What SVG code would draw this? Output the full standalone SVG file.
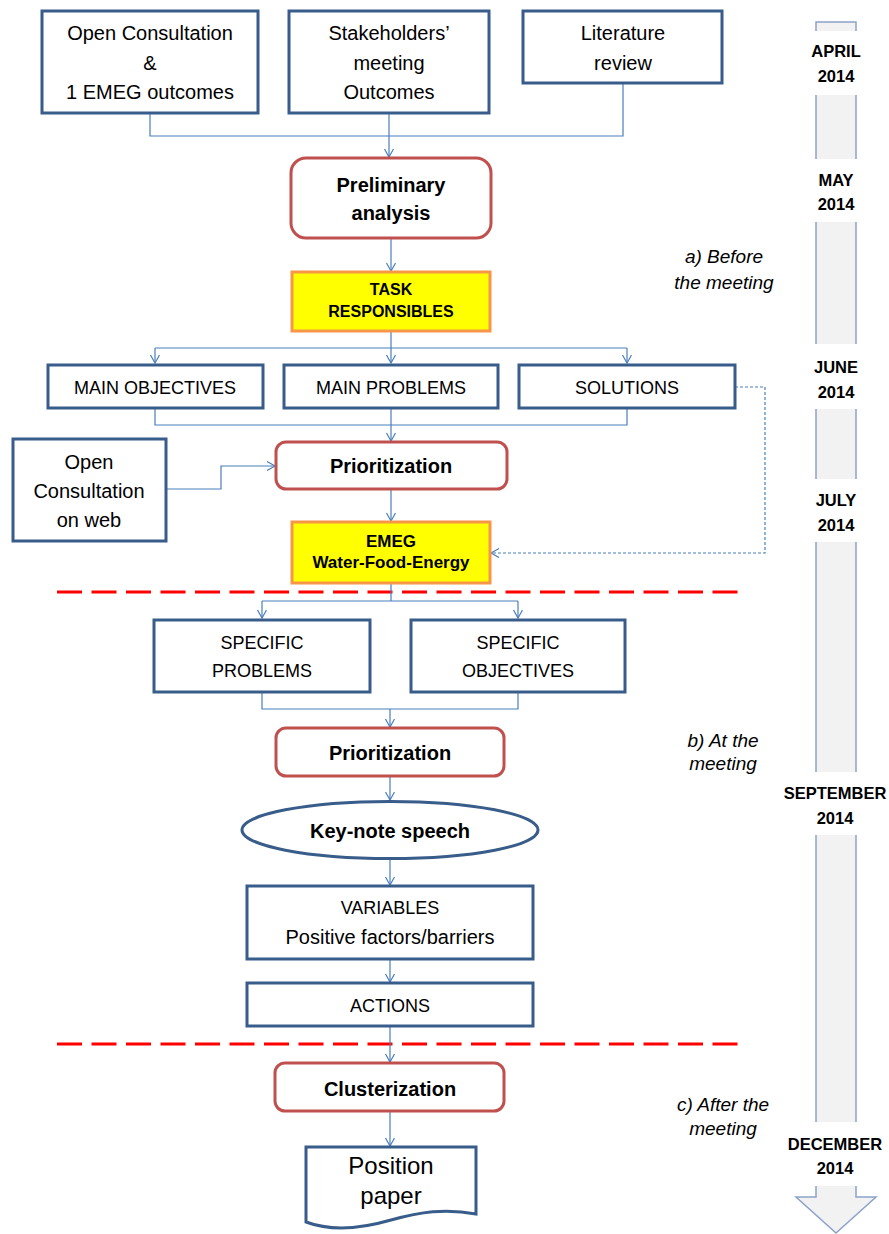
<svg xmlns="http://www.w3.org/2000/svg" width="889" height="1234" viewBox="0 0 889 1234">
<defs>
<marker id="arr" markerUnits="userSpaceOnUse" markerWidth="12" markerHeight="12" refX="9" refY="5" orient="auto">
<path d="M1,0.5 L9,5 L1,9.5" fill="none" stroke="#4a7ebb" stroke-width="1.2"/>
</marker>
<style>
.box{fill:#fff;stroke:#385d8a;stroke-width:3}
.rbox{fill:#fff;stroke:#c0504d;stroke-width:3}
.ybox{fill:#ffff00;stroke:#f79646;stroke-width:3}
.t{font-family:"Liberation Sans",Arial,sans-serif;font-size:20px;fill:#000;text-anchor:middle}
.c{font-size:18px}
.b{font-weight:bold}
.y{font-size:16px;font-weight:bold}
.it{font-family:"Liberation Sans",Arial,sans-serif;font-size:19px;font-style:italic;fill:#000;text-anchor:middle}
.m{font-family:"Liberation Sans",Arial,sans-serif;font-size:16.5px;font-weight:bold;fill:#000;text-anchor:middle}
.cn{fill:none;stroke:#4a7ebb;stroke-width:1.2}
.red{fill:none;stroke:#ff0000;stroke-width:3;stroke-dasharray:25 9.5}
</style>
</defs>
<rect width="889" height="1234" fill="#fff"/>

<g id="timeline">
<path d="M816,22 H856 V1197 H876 L836,1233 L796,1197 H816 Z" fill="#f2f2f2" stroke="#8da2c8" stroke-width="1.5"/>
<rect x="812" y="31" width="48" height="64" fill="#fff"/>
<rect x="812" y="159" width="48" height="63" fill="#fff"/>
<rect x="812" y="344" width="48" height="65" fill="#fff"/>
<rect x="812" y="479" width="48" height="63" fill="#fff"/>
<rect x="812" y="772" width="48" height="63" fill="#fff"/>
<rect x="812" y="1122" width="48" height="64" fill="#fff"/>
<text class="m" x="836" y="57">APRIL</text><text class="m" x="836" y="82">2014</text>
<text class="m" x="836" y="186">MAY</text><text class="m" x="836" y="210">2014</text>
<text class="m" x="836" y="373">JUNE</text><text class="m" x="836" y="398">2014</text>
<text class="m" x="836" y="506">JULY</text><text class="m" x="836" y="531">2014</text>
<text class="m" x="835" y="799">SEPTEMBER</text><text class="m" x="835" y="824">2014</text>
<text class="m" x="835" y="1150">DECEMBER</text><text class="m" x="835" y="1174">2014</text>
</g>

<g id="phases">
<text class="it" x="724" y="263">a) Before</text>
<text class="it" x="724" y="289">the meeting</text>
<text class="it" x="723" y="747">b) At the</text>
<text class="it" x="723" y="770">meeting</text>
<text class="it" x="723" y="1111">c) After the</text>
<text class="it" x="723" y="1135">meeting</text>
</g>

<g id="separators">
<line class="red" x1="57" y1="592" x2="745" y2="592"/>
<line class="red" x1="57" y1="1044" x2="745" y2="1044"/>
</g>

<g id="connectors">
<path class="cn" d="M150,113 V136 H623 V83"/>
<path class="cn" d="M389,113 V136"/>
<path class="cn" d="M389,136 V157" marker-end="url(#arr)"/>
<path class="cn" d="M391,238 V271" marker-end="url(#arr)"/>
<path class="cn" d="M391,331 V348 M155,348 H627"/>
<path class="cn" d="M155,348 V363" marker-end="url(#arr)"/>
<path class="cn" d="M391,348 V363" marker-end="url(#arr)"/>
<path class="cn" d="M627,348 V363" marker-end="url(#arr)"/>
<path class="cn" d="M155,408 V425 H627 V408"/>
<path class="cn" d="M391,408 V441" marker-end="url(#arr)"/>
<path class="cn" d="M166,489 H221 V466 H275" marker-end="url(#arr)"/>
<path class="cn" d="M391,489 V521" marker-end="url(#arr)"/>
<path class="cn" d="M735,387 H765 V553 H491" stroke-dasharray="3 2" marker-end="url(#arr)"/>
<path class="cn" d="M391,583 V601 M262,601 H518"/>
<path class="cn" d="M262,601 V618" marker-end="url(#arr)"/>
<path class="cn" d="M518,601 V618" marker-end="url(#arr)"/>
<path class="cn" d="M262,692 V709 H518 V692"/>
<path class="cn" d="M390,709 V727" marker-end="url(#arr)"/>
<path class="cn" d="M390,776 V800" marker-end="url(#arr)"/>
<path class="cn" d="M390,858 V885" marker-end="url(#arr)"/>
<path class="cn" d="M390,959 V982" marker-end="url(#arr)"/>
<path class="cn" d="M390,1026 V1062" marker-end="url(#arr)"/>
<path class="cn" d="M390,1111 V1146" marker-end="url(#arr)"/>
</g>

<g id="n-open-consultation">
<rect class="box" x="42" y="11" width="216" height="102"/>
<text class="t" x="150" y="40">Open Consultation</text>
<text class="t" x="150" y="70">&amp;</text>
<text class="t" x="150" y="99">1 EMEG outcomes</text>
</g>
<g id="n-stakeholders">
<rect class="box" x="289" y="11" width="200" height="102"/>
<text class="t" x="389" y="40">Stakeholders’</text>
<text class="t" x="389" y="70">meeting</text>
<text class="t" x="389" y="99">Outcomes</text>
</g>
<g id="n-literature">
<rect class="box" x="523" y="11" width="199" height="72"/>
<text class="t" x="623" y="40">Literature</text>
<text class="t" x="623" y="70">review</text>
</g>
<g id="n-preliminary">
<rect class="rbox" x="291" y="158" width="200" height="80" rx="15"/>
<text class="t b" x="391" y="192">Preliminary</text>
<text class="t b" x="391" y="220">analysis</text>
</g>
<g id="n-task">
<rect class="ybox" x="292" y="272" width="198" height="59"/>
<text class="t y" x="391" y="295">TASK</text>
<text class="t y" x="391" y="317">RESPONSIBLES</text>
</g>
<g id="n-main-objectives">
<rect class="box" x="48" y="365" width="215" height="43"/>
<text class="t c" x="155" y="394">MAIN OBJECTIVES</text>
</g>
<g id="n-main-problems">
<rect class="box" x="284" y="365" width="214" height="43"/>
<text class="t c" x="391" y="394">MAIN PROBLEMS</text>
</g>
<g id="n-solutions">
<rect class="box" x="519" y="365" width="216" height="43"/>
<text class="t c" x="627" y="394">SOLUTIONS</text>
</g>
<g id="n-open-web">
<rect class="box" x="13" y="439" width="153" height="102"/>
<text class="t" x="89" y="469">Open</text>
<text class="t" x="89" y="498">Consultation</text>
<text class="t" x="89" y="527">on web</text>
</g>
<g id="n-prioritization-1">
<rect class="rbox" x="276" y="442" width="231" height="47" rx="10"/>
<text class="t b" x="391" y="473">Prioritization</text>
</g>
<g id="n-emeg">
<rect class="ybox" x="292" y="522" width="198" height="61"/>
<text class="t b" x="391" y="547" style="font-size:17px">EMEG</text>
<text class="t b" x="391" y="568" style="font-size:17px">Water-Food-Energy</text>
</g>
<g id="n-specific-problems">
<rect class="box" x="154" y="620" width="216" height="72"/>
<text class="t c" x="262" y="649">SPECIFIC</text>
<text class="t c" x="262" y="677">PROBLEMS</text>
</g>
<g id="n-specific-objectives">
<rect class="box" x="411" y="620" width="214" height="72"/>
<text class="t c" x="518" y="649">SPECIFIC</text>
<text class="t c" x="518" y="677">OBJECTIVES</text>
</g>
<g id="n-prioritization-2">
<rect class="rbox" x="276" y="728" width="228" height="48" rx="10"/>
<text class="t b" x="390" y="760">Prioritization</text>
</g>
<g id="n-keynote">
<ellipse cx="390" cy="830" rx="148" ry="28.5" fill="#fff" stroke="#385d8a" stroke-width="3"/>
<text class="t b" x="390" y="838">Key-note speech</text>
</g>
<g id="n-variables">
<rect class="box" x="247" y="886" width="286" height="73"/>
<text class="t c" x="390" y="914">VARIABLES</text>
<text class="t" x="390" y="944">Positive factors/barriers</text>
</g>
<g id="n-actions">
<rect class="box" x="247" y="983" width="286" height="43"/>
<text class="t c" x="390" y="1012">ACTIONS</text>
</g>
<g id="n-clusterization">
<rect class="rbox" x="275" y="1063" width="229" height="48" rx="10"/>
<text class="t b" x="390" y="1096">Clusterization</text>
</g>
<g id="n-position-paper">
<path class="box" d="M306,1147 H476 V1214 C445,1208 420,1212 391,1220 C360,1229 330,1231 306,1222 Z"/>
<text class="t" x="391" y="1174" style="font-size:24px">Position</text>
<text class="t" x="391" y="1204" style="font-size:24px">paper</text>
</g>
</svg>
